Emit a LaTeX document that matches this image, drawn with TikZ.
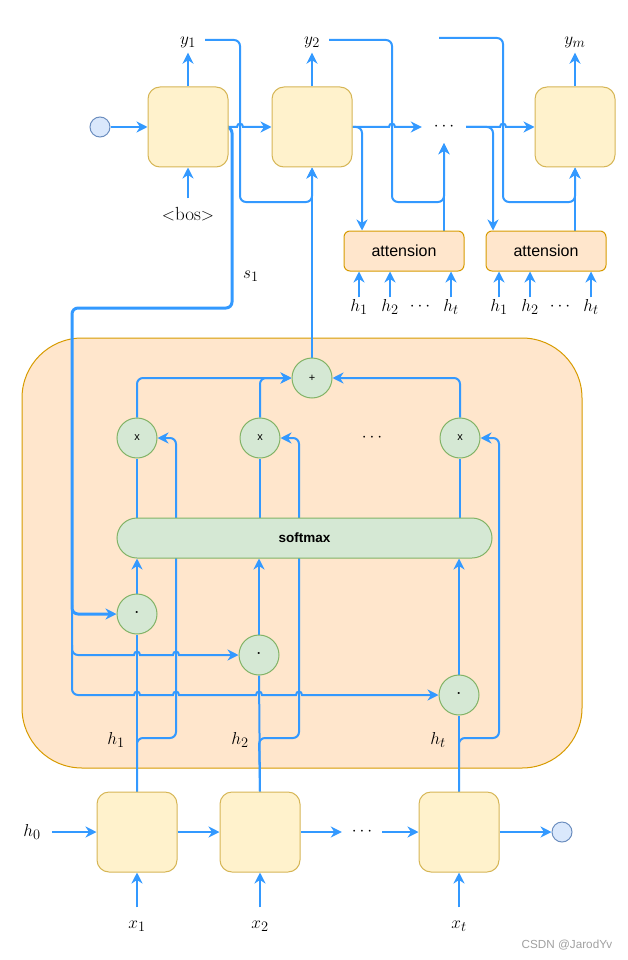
\documentclass[tikz,border=0pt]{standalone}
\usepackage{fontspec}
\setsansfont{Liberation Sans}
\usetikzlibrary{arrows.meta,calc}
\definecolor{lblue}{RGB}{51,153,255}
\definecolor{yfill}{HTML}{FFF2CC}
\definecolor{ydraw}{HTML}{D6B656}
\definecolor{pfill}{HTML}{FFE6CC}
\definecolor{pdraw}{HTML}{D79B00}
\definecolor{gfill}{HTML}{D5E8D4}
\definecolor{gdraw}{HTML}{82B366}
\definecolor{bfill}{HTML}{DAE8FC}
\definecolor{bdraw}{HTML}{6C8EBF}
\definecolor{wmark}{HTML}{A0A0A0}
\pgfdeclarelayer{back}
\pgfdeclarelayer{edges}
\pgfsetlayers{back,edges,main}
\newcommand\hop[2]{-- ({#1-3},#2) .. controls ({#1-3},{#2-4.5}) and ({#1+3},{#2-4.5}) .. ({#1+3},#2)}
\begin{document}
\begin{tikzpicture}[x=1pt,y=-1pt,
  eline/.style={draw=lblue, line width=2pt},
  arr/.style={eline, -{Stealth[length=11pt,width=11pt,inset=3.5pt]}},
  cell/.style={draw=ydraw, fill=yfill, line width=1pt, minimum width=80pt, minimum height=80pt, rounded corners=12pt, inner sep=0pt},
  attbox/.style={draw=pdraw, fill=pfill, line width=1pt, minimum width=120pt, minimum height=40pt, rounded corners=6pt, font=\sffamily\fontsize{16}{19}\selectfont},
  op/.style={circle, draw=gdraw, fill=gfill, line width=1pt, minimum size=40pt, inner sep=0pt, font=\sffamily\fontsize{11}{13}\selectfont},
  term/.style={circle, draw=bdraw, fill=bfill, line width=1pt, minimum size=20pt, inner sep=0pt},
  lbl/.style={font=\fontsize{19}{22}\selectfont, text height=12pt, text depth=3pt, inner sep=3pt},
  dotsnode/.style={font=\fontsize{17.5}{20}\selectfont, inner sep=0pt},
  bigblock/.style={draw=pdraw, fill=pfill, line width=1pt, minimum width=560pt, minimum height=430pt, rounded corners=60pt},
  smbox/.style={draw=gdraw, fill=gfill, line width=1pt, minimum width=375pt, minimum height=40pt, rounded corners=20pt, font=\sffamily\bfseries\fontsize{13.5}{16}\selectfont},
]
\useasboundingbox (0,0) rectangle (628,960);

% ---------- attention block background ----------
\begin{pgfonlayer}{back}
\node[bigblock] (block) at (302,553) {};
\end{pgfonlayer}

% ---------- decoder ----------
\node[term] (start) at (100,127) {};
\node[cell] (d1) at (188,127) {};
\node[cell] (d2) at (312,127) {};
\node[cell] (dm) at (575,127) {};
\node[dotsnode, minimum width=44pt, minimum height=32pt] (ddots) at (444,127) {$\cdots$};
\node[lbl, inner xsep=9pt, inner ysep=5pt] (y1) at (188,40) {$y_1$};
\node[lbl, inner xsep=9pt, inner ysep=5pt] (y2) at (312,40) {$y_2$};
\node[lbl, inner ysep=5pt] (ym) at (575,40) {$y_m$};
\node[lbl, inner ysep=10pt] (bos) at (188,216) {$<$bos$>$};
\coordinate (ymm) at (439,38);
\node[attbox] (att1) at (404,251) {attension};
\node[attbox] (att2) at (546,251) {attension};
\node[lbl, inner ysep=2pt] (h1a) at (359,307) {$h_1$};
\node[lbl, inner ysep=2pt] (h2a) at (390,307) {$h_2$};
\node[dotsnode] (dotsa) at (420,307) {$\cdots$};
\node[lbl, inner ysep=2pt] (hta) at (451,307) {$h_t$};
\node[lbl, inner ysep=2pt] (h1b) at (499,307) {$h_1$};
\node[lbl, inner ysep=2pt] (h2b) at (530,307) {$h_2$};
\node[dotsnode] (dotsb) at (560,307) {$\cdots$};
\node[lbl, inner ysep=2pt] (htb) at (591,307) {$h_t$};
\node[lbl] (s1) at (251,274) {$s_1$};

% ---------- attention internals ----------
\node[op] (plus) at (312,378) {+};
\node[op] (m1) at (137,438) {x};
\node[op] (m2) at (260,438) {x};
\node[op] (mt) at (460,438) {x};
\node[dotsnode] (mdots) at (372,438) {$\cdots$};
\node[smbox] (sm) at (304.5,538) {softmax};
\node[op, font=\sffamily\bfseries\fontsize{12}{14}\selectfont] (dot1) at (137,614) {·};
\node[op, font=\sffamily\bfseries\fontsize{12}{14}\selectfont] (dot2) at (259,655) {·};
\node[op, font=\sffamily\bfseries\fontsize{12}{14}\selectfont] (dott) at (459,695) {·};
\node[lbl] (lh1) at (116,740) {$h_1$};
\node[lbl] (lh2) at (240,740) {$h_2$};
\node[lbl] (lht) at (438,740) {$h_t$};

% ---------- encoder ----------
\node[cell] (e1) at (137,832) {};
\node[cell] (e2) at (260,832) {};
\node[cell] (et) at (459,832) {};
\node[lbl, inner xsep=11pt] (h0) at (32,832) {$h_0$};
\node[dotsnode, minimum width=40pt, minimum height=20pt] (edots) at (362,832) {$\cdots$};
\node[term] (endc) at (562,832) {};
\node[lbl, inner ysep=9pt] (x1) at (137,924) {$x_1$};
\node[lbl, inner ysep=9pt] (x2) at (260,924) {$x_2$};
\node[lbl, inner ysep=9pt] (xt) at (459,924) {$x_t$};
\node[font=\sffamily\fontsize{11.7}{14}\selectfont, text=wmark] (wm) at (567,945) {CSDN @JarodYv};

% ---------- connectors ----------
\begin{pgfonlayer}{edges}
% decoder chain
\draw[arr] (start) -- (d1);
\draw[arr] (d1.east) \hop{240}{127} -- (d2.west);
\draw[arr] (d2.east) \hop{392}{127} -- (ddots.west);
\draw[arr] (ddots.east) \hop{503}{127} -- (dm.west);
\draw[arr] (d1.north) -- (y1.south);
\draw[arr] (d2.north) -- (y2.south);
\draw[arr] (dm.north) -- (ym.south);
\draw[arr] (bos.north) -- (d1.south);
% feedback of outputs
\draw[arr, rounded corners=6pt] (y1.east) -- (240,40) -- (240,202) -- (312,202) -- (d2.south);
\draw[arr, rounded corners=6pt] (y2.east) -- (392,40) -- (392,202) -- (444,202) -- (ddots.south);
\draw[arr, rounded corners=6pt] (ymm) -- (503,38) -- (503,202) -- (575,202) -- (dm.south);
% decoder states into attention
\draw[arr, rounded corners=6pt] (d2.east) -- (362,127) -- (att1.north -| 362,0);
\draw[arr, rounded corners=6pt] (ddots.east) -- (493,127) -- (att2.north -| 493,0);
% attention outputs
\draw[arr] (att1.north -| ddots) -- (ddots.south);
\draw[arr] (att2.north -| dm) -- (dm.south);
% h inputs to attention boxes
\foreach \n/\b in {h1a/att1,h2a/att1,hta/att1,h1b/att2,h2b/att2,htb/att2}
  \draw[arr] (\n.north) -- (\n.north |- \b.south);
% s1 path
\draw[arr, line width=3pt, rounded corners=6pt] (d1.east) -- (232,127) -- (232,308) -- (72,308) -- (72,614) -- (dot1.west);
\draw[eline, rounded corners=6pt] (72,605) -- (72,655) -- (110,655);
\draw[arr] (110,655) \hop{137}{655} \hop{176}{655} -- (dot2.west);
\draw[eline, rounded corners=6pt] (72,645) -- (72,695) -- (110,695);
\draw[arr] (110,695) \hop{137}{695} \hop{176}{695} \hop{259}{695} \hop{299}{695} -- (dott.west);
% context sum
\draw[arr] (plus.north) -- (d2.south);
\draw[arr, rounded corners=6pt] (m1.north) -- (137,378) -- (plus.west);
\draw[arr, rounded corners=6pt] (m2.north) -- (260,378) -- (plus.west);
\draw[arr, rounded corners=6pt] (mt.north) -- (460,378) -- (plus.east);
% softmax to products
\draw[eline] (m1.south |- sm.north) -- (m1.south);
\draw[eline] (m2.south |- sm.north) -- (m2.south);
\draw[eline] (mt.south |- sm.north) -- (mt.south);
% scores into softmax
\draw[arr] (dot1.north) -- (dot1.north |- sm.south);
\draw[arr] (dot2.north) -- (dot2.north |- sm.south);
\draw[arr] (dott.north) -- (dott.north |- sm.south);
% encoder states
\draw[eline] (e1.north) -- (dot1.south);
\draw[eline] (e2.north) -- (dot2.south);
\draw[eline] (et.north) -- (dott.south);
\draw[arr, rounded corners=6pt] (e1.north) -- (137,738) -- (176,738) -- (176,438) -- (m1.east);
\draw[arr, rounded corners=6pt] (e2.north) -- (259,738) -- (299,738) -- (299,438) -- (m2.east);
\draw[arr, rounded corners=6pt] (et.north) -- (459,738) -- (499,738) -- (499,438) -- (mt.east);
% encoder chain
\draw[arr] (h0.east) -- (e1.west);
\draw[arr] (e1.east) -- (e2.west);
\draw[arr] (e2.east) -- (edots.west);
\draw[arr] (edots.east) -- (et.west);
\draw[arr] (et.east) -- (endc.west);
\draw[arr] (x1.north) -- (e1.south);
\draw[arr] (x2.north) -- (e2.south);
\draw[arr] (xt.north) -- (et.south);
\end{pgfonlayer}
\end{tikzpicture}
\end{document}
